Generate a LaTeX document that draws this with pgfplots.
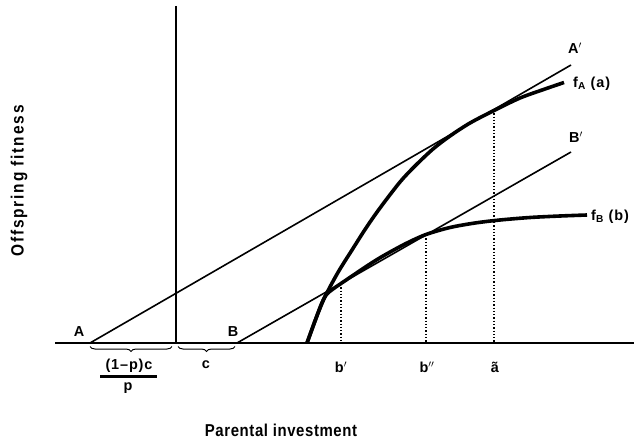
\documentclass[border=0pt]{standalone}
\usepackage{fontspec}
\setmainfont{Liberation Sans}
\usepackage{pgfplots}
\pgfplotsset{compat=1.18}
\usetikzlibrary{decorations.pathreplacing}
\begin{document}
\begin{tikzpicture}
\begin{axis}[at={(0,0)}, anchor=south west, scale only axis,
  width=634bp, height=441bp, xmin=0, xmax=634, ymin=0, ymax=441,
  y dir=reverse, hide axis, clip=false]
% axes
\addplot[black, line width=1.3bp] coordinates {(55,343) (634,343)};
\addplot[black, line width=1.2bp] coordinates {(176,6) (176,343)};
% lines A-A' and B-B'
\addplot[black, line width=1.6bp] coordinates {(90,343) (571,65)};
\addplot[black, line width=1.6bp] coordinates {(237,343) (571,152)};
% fA
\addplot[black, line width=3.6bp, smooth, tension=0.5] coordinates {
(307,343) (315,321) (323,301) (331,285) (340,269) (352,250) (366,228)
(380,208) (400,182) (415,166) (433,149) (450,136) (470,123) (494,110.5)
(520,98) (545,89) (564,82.5)};
% fB
\addplot[black, line width=3.6bp, smooth, tension=0.5] coordinates {
(307,343) (315,321) (321,305) (326,295) (333,289) (341,283.5) (355,274)
(370,264) (383,256) (405,244) (426,234.5) (450,227.5) (475,223)
(500,220) (530,217.5) (560,216) (587,215)};
% dotted verticals
\addplot[black, line width=1.3bp, dotted] coordinates {(341,284) (341,343)};
\addplot[black, line width=1.3bp, dotted] coordinates {(426,235) (426,343)};
\addplot[black, line width=1.3bp, dotted] coordinates {(494,110) (494,343)};
% braces
\draw[line width=1bp, decorate, decoration={brace, mirror, amplitude=5bp}]
  (axis cs:90,346.5) -- (axis cs:172,346.5);
\draw[line width=1bp, decorate, decoration={brace, mirror, amplitude=5bp}]
  (axis cs:178,346.5) -- (axis cs:235,346.5);
% labels
\tikzset{lab/.style={font=\fontsize{14.5}{14.5}\selectfont\bfseries\addfontfeatures{LetterSpace=6}, inner sep=0pt}}
\node[lab] at (axis cs:79,332) {A};
\node[lab] at (axis cs:233,332) {B};
\node[lab] at (axis cs:575,48) {A$^{\prime}$};
\node[lab] at (axis cs:576,137) {B$^{\prime}$};
\node[lab, anchor=west] at (axis cs:573,84) {f\textsubscript{A} (a)};
\node[lab, anchor=west] at (axis cs:591,217) {f\textsubscript{B} (b)};
\node[lab] at (axis cs:341,367) {b$^{\prime}$};
\node[lab] at (axis cs:427,367) {b$^{\prime\prime}$};
\node[lab] at (axis cs:495,367) {ã};
\node[lab] at (axis cs:129,366) {(1–p)c};
\draw[line width=2.2bp] (axis cs:100,376.5) -- (axis cs:157,376.5);
\node[lab] at (axis cs:128,388) {p};
\node[lab] at (axis cs:206,365) {c};
\node[font=\fontsize{15}{15}\selectfont\bfseries\addfontfeatures{LetterSpace=4}, inner sep=0pt] at (axis cs:281,430) {\scalebox{1}[1.15]{Parental investment}};
\node[font=\fontsize{15.5}{15.5}\selectfont\bfseries\addfontfeatures{LetterSpace=12}, inner sep=0pt, rotate=90] at (axis cs:19,181) {\scalebox{1}[1.15]{Offspring fitness}};
\end{axis}
\pgfresetboundingbox
\path[use as bounding box] (0,0) rectangle (634bp,441bp);
\end{tikzpicture}
\end{document}
